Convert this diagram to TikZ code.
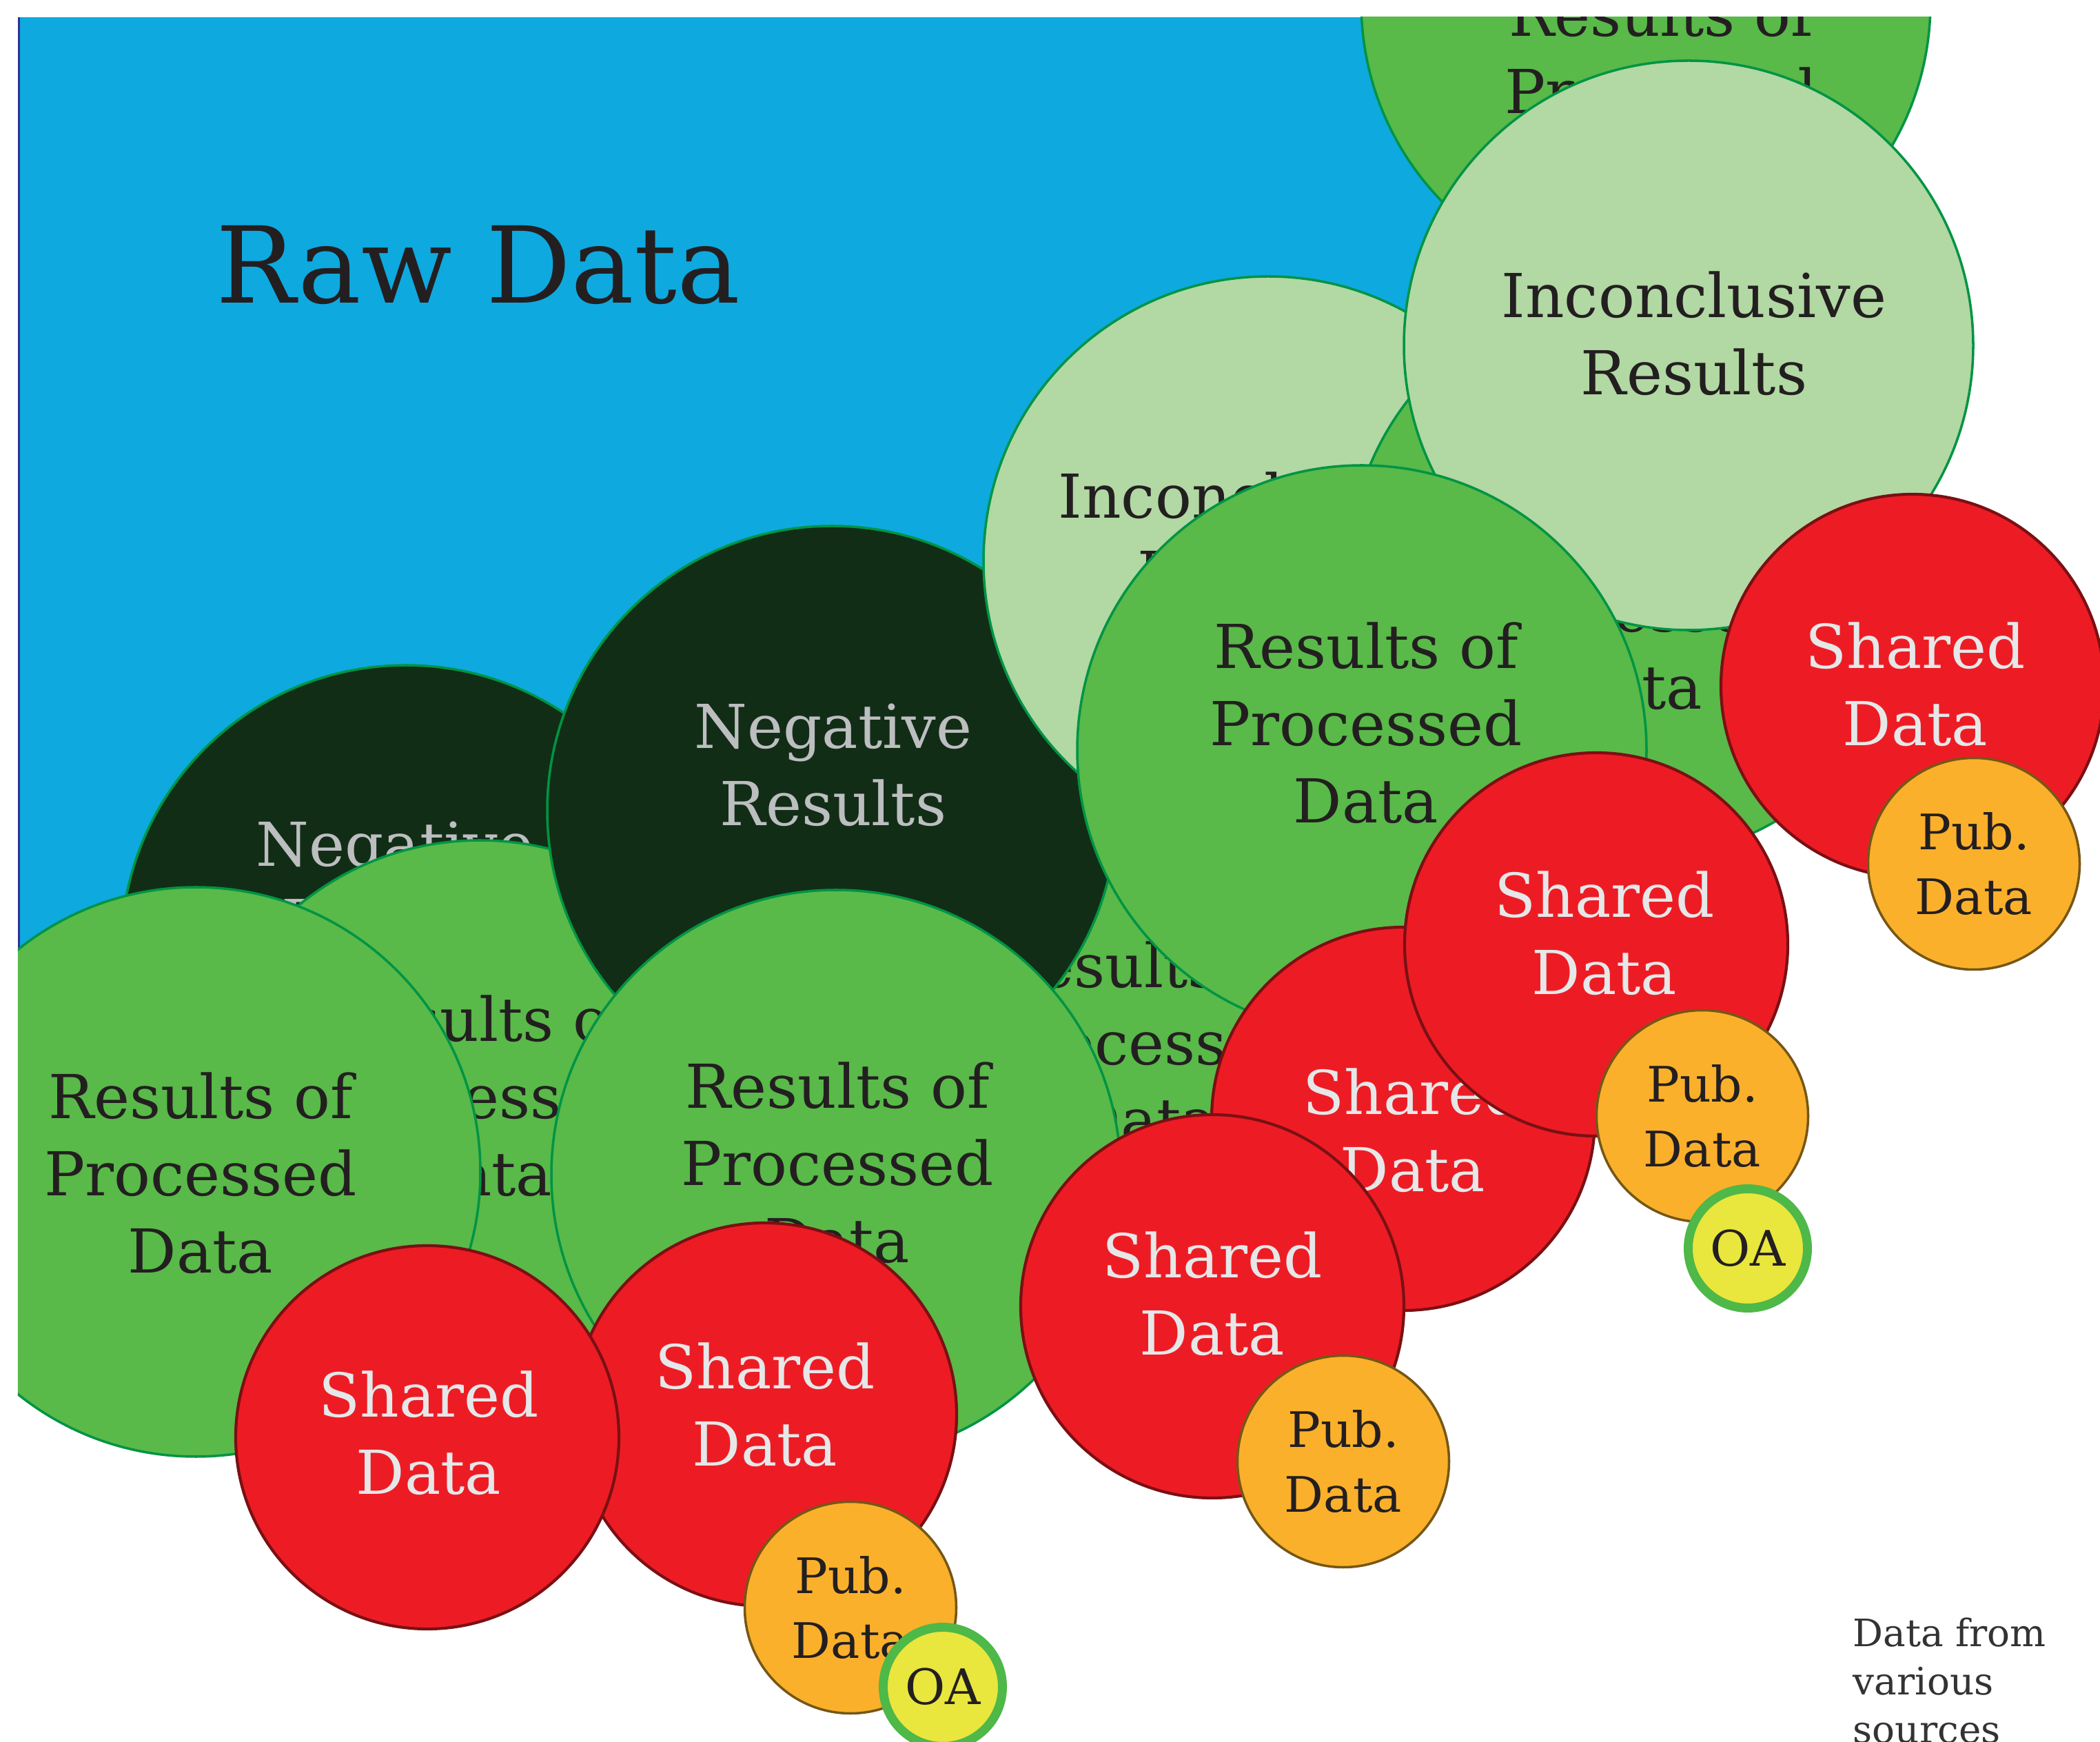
\documentclass[tikz,border=0pt]{standalone}
\usepackage{fontspec}
\setmainfont{DejaVu Serif}

\definecolor{rawblue}{RGB}{14,169,223}
\definecolor{rawedge}{RGB}{46,49,146}
\definecolor{resgreen}{RGB}{89,185,73}
\definecolor{incgreen}{RGB}{178,216,163}
\definecolor{neggreen}{RGB}{18,45,22}
\definecolor{rimgreen}{RGB}{0,148,68}
\definecolor{sharedred}{RGB}{237,28,36}
\definecolor{sharedrim}{RGB}{122,16,20}
\definecolor{puborange}{RGB}{251,176,43}
\definecolor{pubrim}{RGB}{117,87,22}
\definecolor{oayellow}{RGB}{233,230,62}
\definecolor{oaring}{RGB}{78,184,72}
\definecolor{ink}{RGB}{35,31,32}
\definecolor{palegrey}{RGB}{230,231,232}
\definecolor{neggrey}{RGB}{188,190,192}
\definecolor{notegrey}{RGB}{51,51,51}

\tikzset{
    bubble/.style = {circle, inner sep = 0pt, line width = 1pt},
    resbubble/.style = {bubble, fill = resgreen, draw = rimgreen, minimum size = 8.26cm},
    incbubble/.style = {bubble, fill = incgreen, draw = rimgreen, minimum size = 8.26cm},
    negbubble/.style = {bubble, fill = neggreen, draw = rimgreen, minimum size = 8.26cm},
    sharedbubble/.style = {bubble, fill = sharedred, draw = sharedrim, line width = 1.2pt, minimum size = 5.56cm},
    pubbubble/.style = {bubble, fill = puborange, draw = pubrim, minimum size = 3.07cm, align = center, text = ink, font = \fontsize{20.2}{27}\selectfont},
    oabubble/.style = {bubble, fill = oayellow, draw = oaring, line width = 0.13cm, minimum size = 1.73cm, text = ink, font = \fontsize{20.2}{27}\selectfont},
    bigtext/.style = {align = center, inner sep = 0pt, text = ink, font = \fontsize{25}{31.9}\selectfont},
    negtext/.style = {bigtext, text = neggrey},
    sharedtext/.style = {bigtext, text = palegrey}
}

\begin{document}
\begin{tikzpicture}[y = -1cm]
    \useasboundingbox (0, 0) rectangle (30.47, 25.27);
    \clip (0.26, 0.25) rectangle (30.47, 25.27);

    \fill[rawblue] (0.26, 0.25) rectangle (21.8, 17.5);
    \draw[rawedge, line width = 0.03cm] (0.275, 0.25) -- (0.275, 17.5);
    \node[inner sep = 0pt, text = ink, font = \fontsize{43.8}{52}\selectfont] (raw) at (6.94, 3.84) {Raw Data};

    \node[resbubble] (res1) at (23.88, 0.04) {};
    \node[bigtext] (res1-t) at (24.10, 1.32) {Results of\\Processed\\Data};

    \node[negbubble] (neg1) at (5.89, 13.78) {};
    \node[negtext] (neg1-t) at (5.73, 12.81) {Negative\\Results};

    \node[resbubble] (res2) at (6.96, 16.32) {};
    \node[bigtext] (res2-t) at (6.96, 15.90) {Results of\\Processed\\Data};

    \node[resbubble] (res3) at (2.84, 17.00) {};
    \node[bigtext] (res3-t) at (2.91, 17.02) {Results of\\Processed\\Data};

    \node[resbubble] (res4) at (16.61, 15.55) {};
    \node[bigtext] (res4-t) at (16.61, 15.12) {Results of\\Processed\\Data};

    \node[negbubble] (neg2) at (12.07, 11.76) {};
    \node[negtext] (neg2-t) at (12.09, 11.10) {Negative\\Results};

    \node[incbubble] (inc1) at (18.40, 8.14) {};
    \node[bigtext] (inc1-t) at (18.15, 7.75) {Inconclusive\\Results};

    \node[resbubble] (res5) at (23.69, 8.34) {};
    \node[bigtext] (res5-t) at (23.65, 8.84) {Results of\\Processed\\Data};

    \node[incbubble] (inc2) at (24.50, 5.01) {};
    \node[bigtext] (inc2-t) at (24.58, 4.84) {Inconclusive\\Results};

    \node[resbubble] (res6) at (19.76, 10.88) {};
    \node[bigtext] (res6-t) at (19.82, 10.49) {Results of\\Processed\\Data};

    \node[resbubble] (res7) at (12.13, 17.04) {};
    \node[bigtext] (res7-t) at (12.15, 16.87) {Results of\\Processed\\Data};

    \node[sharedbubble] (sh1) at (20.36, 16.23) {};
    \node[sharedtext] (sh1-t) at (20.50, 16.40) {Shared\\Data};

    \node[sharedbubble] (sh2) at (23.16, 13.70) {};
    \node[sharedtext] (sh2-t) at (23.28, 13.54) {Shared\\Data};

    \node[sharedbubble] (sh3) at (17.59, 18.95) {};
    \node[sharedtext] (sh3-t) at (17.59, 18.77) {Shared\\Data};

    \node[sharedbubble] (sh4) at (27.75, 9.95) {};
    \node[sharedtext] (sh4-t) at (27.79, 9.93) {Shared\\Data};

    \node[sharedbubble] (sh5) at (11.10, 20.52) {};
    \node[sharedtext] (sh5-t) at (11.10, 20.38) {Shared\\Data};

    \node[sharedbubble] (sh6) at (6.20, 20.85) {};
    \node[sharedtext] (sh6-t) at (6.22, 20.79) {Shared\\Data};

    \node[pubbubble] (pub1) at (28.64, 12.53) {Pub.\\Data};
    \node[pubbubble] (pub2) at (24.70, 16.19) {Pub.\\Data};
    \node[pubbubble] (pub3) at (19.49, 21.20) {Pub.\\Data};
    \node[pubbubble] (pub4) at (12.34, 23.32) {Pub.\\Data};

    \node[oabubble] (oa1) at (25.36, 18.11) {OA};
    \node[oabubble] (oa2) at (13.68, 24.47) {OA};

    \node[anchor = north west, align = left, inner sep = 0pt, text = notegrey, font = \fontsize{15.6}{19.9}\selectfont] (note) at (26.88, 23.46) {Data from\\various\\sources};
\end{tikzpicture}
\end{document}
